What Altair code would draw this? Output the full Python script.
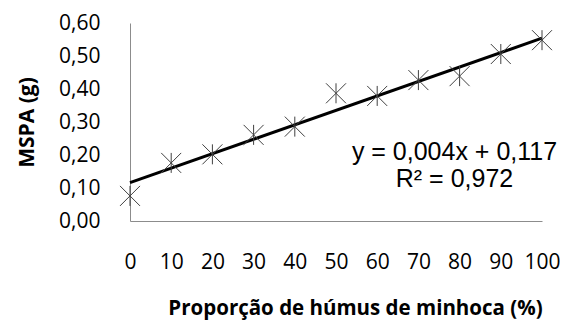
import altair as alt
import pandas as pd

proporcao = [0, 10, 20, 30, 40, 50, 60, 70, 80, 90, 100]
mspa = [0.076, 0.176, 0.202, 0.261, 0.286, 0.387, 0.379, 0.427, 0.439, 0.506, 0.548]
eq_lines = ["y = 0,004x + 0,117", "R² = 0,972"]
y_ticks = [0.0, 0.1, 0.2, 0.3, 0.4, 0.5, 0.6]
x_ticks = [0, 10, 20, 30, 40, 50, 60, 70, 80, 90, 100]

df = pd.DataFrame({"x": proporcao, "y": mspa})
eq = pd.DataFrame({"t": eq_lines, "i": [0, 1]})

W, H = 412, 198

xs = alt.Scale(domain=[0, 100], nice=False)
ys = alt.Scale(domain=[0, 0.6], nice=False)

x_axis = alt.Axis(
    values=x_ticks, grid=False, ticks=False, tickSize=0, domainColor="#8c8c8c",
    labelFont="Open Sans", labelFontSize=21, labelColor="#000000", labelPadding=30,
    title="Proporção de húmus de minhoca (%)", titleFont="Open Sans", titleFontSize=20.5,
    titleFontWeight="bold", titleColor="#000000", titlePadding=26, titleX=225,
    labelFlush=False,
)
y_axis = alt.Axis(
    values=y_ticks, grid=False, ticks=False, tickSize=0, domainColor="#8c8c8c",
    labelFont="Open Sans", labelFontSize=21, labelColor="#000000", labelPadding=30,
    labelExpr="replace(format(datum.value, '.2f'), '.', ',')",
    title="MSPA (g)", titleFont="Open Sans", titleFontSize=21, titleFontWeight="bold",
    titleColor="#000000", titlePadding=21, labelFlush=False,
)

star = "M-1,-1L1,1M-1,1L1,-1M0,-1L0,1"

points = alt.Chart(df).mark_point(
    shape=star, size=400, filled=False, stroke="#404040", strokeWidth=1, opacity=1
).encode(
    x=alt.X("x:Q", scale=xs, axis=x_axis),
    y=alt.Y("y:Q", scale=ys, axis=y_axis),
)

trend = alt.Chart(df).transform_regression("x", "y").mark_line(
    color="#000000", strokeWidth=3
).encode(
    x=alt.X("x:Q", scale=xs, axis=x_axis),
    y=alt.Y("y:Q", scale=ys, axis=y_axis),
)

text_base = alt.Chart(eq).mark_text(
    font="Liberation Sans", fontSize=25, color="#000000", align="center", baseline="middle"
)
text1 = text_base.transform_filter("datum.i == 0").encode(
    x=alt.value(324.5), y=alt.value(129), text="t:N"
)
text2 = text_base.transform_filter("datum.i == 1").encode(
    x=alt.value(324.5), y=alt.value(156), text="t:N"
)

chart = alt.layer(trend, points, text1, text2).properties(
    width=W, height=H,
    background="#ffffff",
    autosize=alt.AutoSizeParams(type="none"),
    padding={"left": 122, "top": 15, "right": 18, "bottom": 100},
).configure_view(strokeWidth=0)

chart.save("out.html", embed_options={"renderer": "svg", "actions": False})
